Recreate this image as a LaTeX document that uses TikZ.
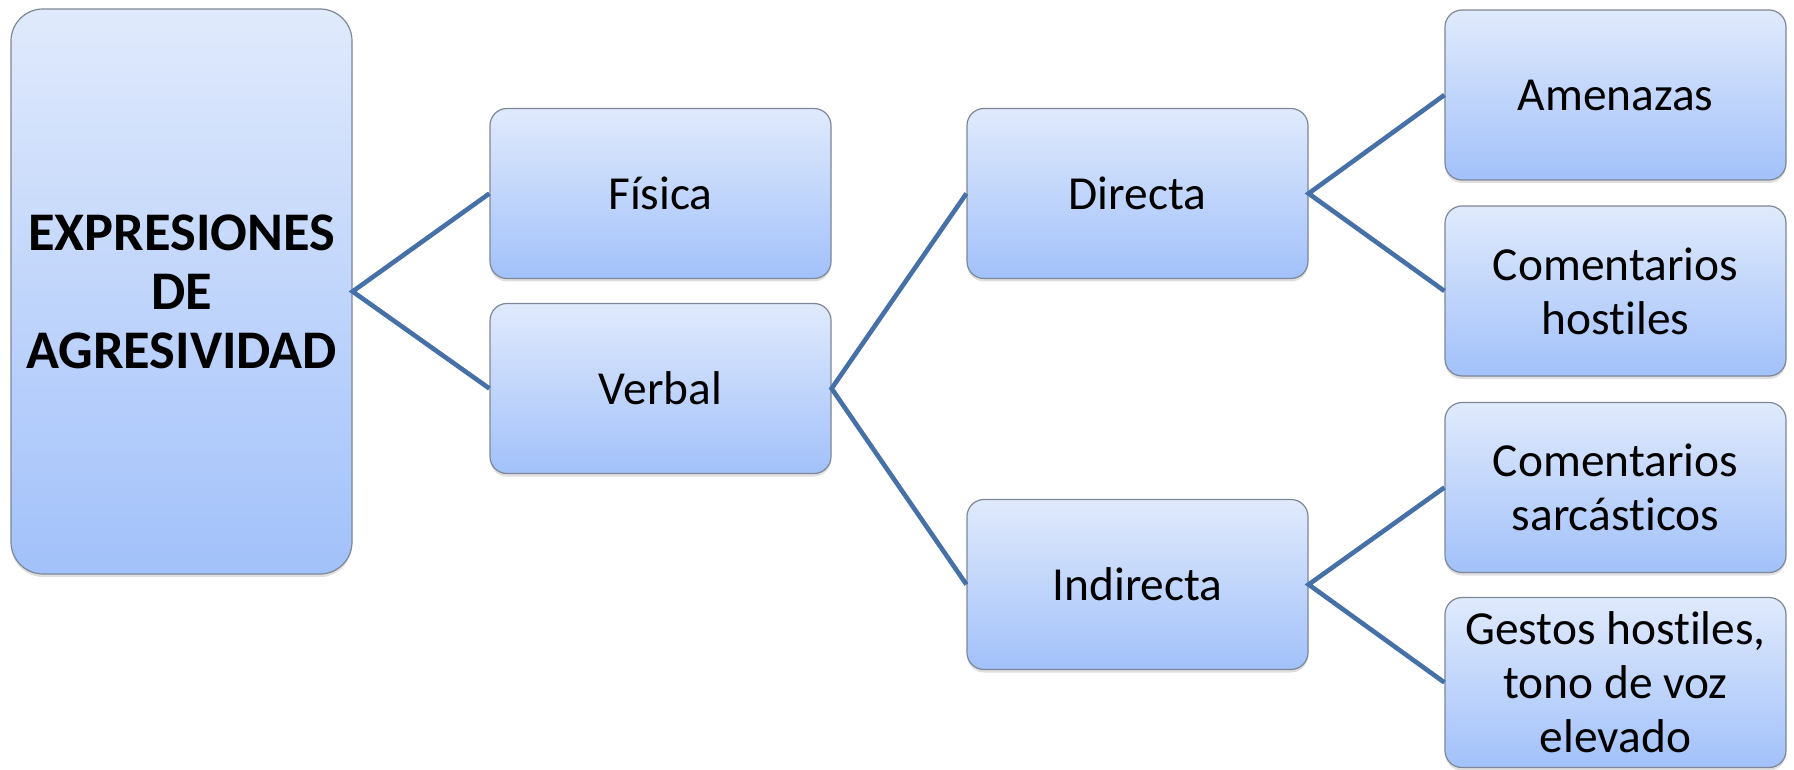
\documentclass[tikz,border=0pt]{standalone}
\usepackage{fontspec}
\setmainfont[RawFeature={-liga}]{Carlito}
\usetikzlibrary{shadows}
\definecolor{boxtop}{HTML}{E0EAFC}
\definecolor{boxbot}{HTML}{A2C1FA}
\definecolor{boxline}{HTML}{7D8797}
\definecolor{linkc}{HTML}{4570A8}
\tikzset{
  box/.style={draw=boxline, line width=0.6pt, rounded corners=8.5pt,
    top color=boxtop, bottom color=boxbot,
    minimum width=170.5pt, minimum height=85pt, align=center,
    font=\fontsize{23.7}{27}\selectfont, inner sep=2pt,
    drop shadow={shadow xshift=0pt, shadow yshift=-1.5pt, opacity=0.25}},
  rootbox/.style={box, rounded corners=16pt, minimum height=282.5pt,
    font=\fontsize{27.2}{29.5}\selectfont\bfseries},
  link/.style={draw=linkc, line width=2.3pt}
}
\begin{document}
\begin{tikzpicture}[x=0.5pt, y=-0.5pt]
\useasboundingbox (0,0) rectangle (1794,770);
\node[rootbox] (root) at (181.5,291.5) {EXPRESIONES\\DE\\AGRESIVIDAD};
\node[box] (fisica) at (660.5,193.5) {Física};
\node[box] (verbal) at (660.5,388.5) {Verbal};
\node[box] (directa) at (1137.5,193.5) {Directa};
\node[box] (indirecta) at (1137.5,584.5) {Indirecta};
\node[box] (amenazas) at (1615.5,95) {Amenazas};
\node[box] (hostiles) at (1615.5,291) {Comentarios\\hostiles};
\node[box] (sarc) at (1615.5,487.5) {Comentarios\\sarcásticos};
\node[box] (gestos) at (1615.5,682.5) {Gestos hostiles,\\tono de voz\\elevado};
\draw[link] (fisica.west) -- (root.east) -- (verbal.west);
\draw[link] (directa.west) -- (verbal.east) -- (indirecta.west);
\draw[link] (amenazas.west) -- (directa.east) -- (hostiles.west);
\draw[link] (sarc.west) -- (indirecta.east) -- (gestos.west);
\end{tikzpicture}
\end{document}
